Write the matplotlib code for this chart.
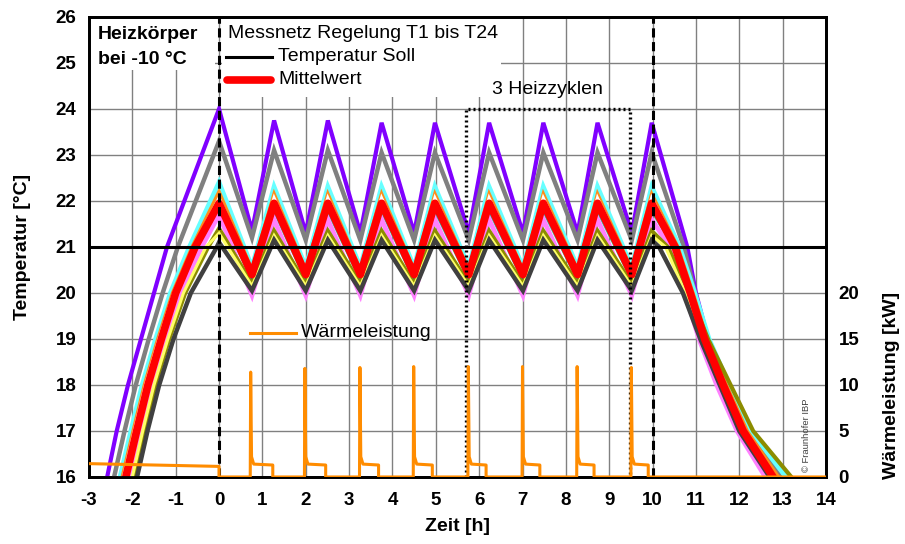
import matplotlib
matplotlib.use('Agg')
import matplotlib.pyplot as plt
from matplotlib.patches import Rectangle

plt.rcParams['font.family'] = ['Liberation Sans', 'DejaVu Sans']
plt.rcParams['axes.unicode_minus'] = False

# shared time grid for the heating cycles (peak, trough, peak, ...)
cycle_t = [0.0, 0.76, 1.27, 2.0, 2.51, 3.26, 3.75, 4.5, 4.98, 5.76, 6.23, 7.01, 7.48, 8.27, 8.73, 9.52, 9.98]
rise_levels = [15.5, 16, 17, 18, 19, 20, 21]
fall_levels = [21, 20, 19, 18, 17, 16, 15.5]

purple_rise = [-2.68, -2.58, -2.36, -2.1, -1.8, -1.5, -1.2]
purple_cyc = [24.0, 21.35, 23.75, 21.3, 23.75, 21.3, 23.7, 21.3, 23.7, 21.3, 23.7, 21.3, 23.7, 21.3, 23.7, 21.3, 23.7]
purple_fall = [10.8, 11.0, 11.28, 11.73, 12.22, 12.95, 13.2]

gray_rise = [-2.52, -2.42, -2.18, -1.92, -1.62, -1.3, -0.95]
gray_cyc = [23.3, 21.2, 23.1, 21.15, 23.1, 21.15, 23.05, 21.15, 23.05, 21.15, 23.05, 21.15, 23.05, 21.15, 23.05, 21.15, 23.05]
gray_fall = [10.72, 10.98, 11.26, 11.72, 12.2, 12.95, 13.2]

cyan_rise = [-2.38, -2.28, -2.03, -1.77, -1.46, -1.12, -0.68]
cyan_cyc = [22.4, 20.55, 22.3, 20.55, 22.3, 20.55, 22.3, 20.55, 22.3, 20.55, 22.3, 20.55, 22.3, 20.55, 22.3, 20.55, 22.3]
cyan_fall = [10.62, 10.97, 11.3, 11.76, 12.27, 13.08, 13.35]

orange_rise = [-2.33, -2.23, -1.98, -1.72, -1.41, -1.07, -0.62]
orange_cyc = [22.2, 20.5, 22.15, 20.5, 22.15, 20.5, 22.15, 20.5, 22.15, 20.5, 22.15, 20.5, 22.15, 20.5, 22.15, 20.5, 22.15]
orange_fall = [10.58, 10.93, 11.26, 11.7, 12.18, 12.9, 13.15]

white_rise = [-2.3, -2.2, -1.95, -1.69, -1.38, -1.04, -0.58]
white_cyc = [22.05, 20.45, 22.05, 20.45, 22.05, 20.45, 22.05, 20.45, 22.05, 20.45, 22.05, 20.45, 22.05, 20.45, 22.05, 20.45, 22.05]
white_fall = [10.55, 10.9, 11.22, 11.66, 12.12, 12.82, 13.1]

teal_rise = [-2.22, -2.12, -1.87, -1.61, -1.3, -0.96, -0.5]
teal_cyc = [21.85, 20.3, 21.8, 20.3, 21.8, 20.3, 21.8, 20.3, 21.8, 20.3, 21.8, 20.3, 21.8, 20.3, 21.8, 20.3, 21.8]
teal_fall = [10.5, 10.85, 11.18, 11.6, 12.05, 12.75, 13.05]

blue_rise = [-2.25, -2.15, -1.9, -1.64, -1.33, -1.0, -0.55]
blue_cyc = [21.9, 20.35, 21.85, 20.35, 21.85, 20.35, 21.85, 20.35, 21.85, 20.35, 21.85, 20.35, 21.85, 20.35, 21.85, 20.35, 21.85]
blue_fall = [10.52, 10.87, 11.2, 11.63, 12.09, 12.78, 13.05]

pink_rise = [-2.18, -2.08, -1.83, -1.57, -1.25, -0.9, -0.4]
pink_cyc = [21.7, 19.95, 21.6, 19.95, 21.6, 19.95, 21.6, 19.95, 21.6, 19.95, 21.6, 19.95, 21.6, 19.95, 21.6, 19.95, 21.6]
pink_fall = [10.4, 10.75, 11.07, 11.48, 11.95, 12.6, 12.9]

olive_rise = [-2.06, -1.97, -1.73, -1.47, -1.15, -0.78, -0.25]
olive_cyc = [21.4, 20.2, 21.35, 20.2, 21.35, 20.2, 21.35, 20.2, 21.35, 20.2, 21.35, 20.2, 21.35, 20.2, 21.35, 20.2, 21.35]
olive_fall = [10.35, 10.85, 11.28, 11.8, 12.32, 13.2, 13.45]

yellow_rise = [-2.1, -2.0, -1.76, -1.5, -1.18, -0.82, -0.3]
yellow_cyc = [21.3, 20.15, 21.25, 20.15, 21.25, 20.15, 21.25, 20.15, 21.25, 20.15, 21.25, 20.15, 21.25, 20.15, 21.25, 20.15, 21.25]
yellow_fall = [10.3, 10.75, 11.12, 11.58, 12.05, 12.72, 13.0]

dgray_rise = [-1.98, -1.89, -1.65, -1.38, -1.05, -0.65, -0.05]
dgray_cyc = [21.1, 20.05, 21.15, 20.05, 21.15, 20.05, 21.15, 20.05, 21.15, 20.05, 21.15, 20.05, 21.15, 20.05, 21.15, 20.05, 21.15]
dgray_fall = [10.15, 10.7, 11.1, 11.55, 12.0, 12.7, 13.0]

mean_rise = [-2.25, -2.15, -1.9, -1.64, -1.33, -1.0, -0.55]
mean_cyc = [21.95, 20.4, 21.95, 20.4, 21.95, 20.4, 21.95, 20.4, 21.95, 20.4, 21.95, 20.4, 21.95, 20.4, 21.95, 20.4, 21.95]
mean_fall = [10.52, 10.87, 11.2, 11.63, 12.09, 12.78, 13.05]

# heating power [kW]
power_t = [-3.0, 0.0, 0.0,
           0.72, 0.73, 0.75, 0.80, 1.24, 1.24,
           1.97, 1.98, 2.00, 2.05, 2.46, 2.46,
           3.24, 3.25, 3.27, 3.32, 3.68, 3.68,
           4.48, 4.49, 4.51, 4.56, 4.92, 4.92,
           5.74, 5.75, 5.77, 5.82, 6.16, 6.16,
           6.99, 7.00, 7.02, 7.07, 7.40, 7.40,
           8.25, 8.26, 8.28, 8.33, 8.65, 8.65,
           9.50, 9.51, 9.53, 9.58, 9.90, 9.90,
           14.0]
power_kw = [1.45, 1.15, 0.0,
            0.0, 11.4, 2.2, 1.4, 1.3, 0.0,
            0.0, 11.8, 2.2, 1.4, 1.3, 0.0,
            0.0, 11.9, 2.2, 1.4, 1.3, 0.0,
            0.0, 12.0, 2.2, 1.4, 1.3, 0.0,
            0.0, 12.0, 2.2, 1.4, 1.3, 0.0,
            0.0, 12.0, 2.2, 1.4, 1.3, 0.0,
            0.0, 12.0, 2.2, 1.4, 1.3, 0.0,
            0.0, 11.9, 2.2, 1.4, 1.3, 0.0,
            0.0]

x_ticks = list(range(-3, 15))
t_ticks = list(range(16, 27))
p_ticks = [0, 5, 10, 15, 20]

sensors = [
    (purple_rise, purple_cyc, purple_fall, '#8000ff', 3.0),
    (gray_rise, gray_cyc, gray_fall, '#808080', 3.2),
    (cyan_rise, cyan_cyc, cyan_fall, '#66ffff', 3.6),
    (orange_rise, orange_cyc, orange_fall, '#ff8c1a', 2.6),
    (white_rise, white_cyc, white_fall, '#ffffff', 2.6),
    (teal_rise, teal_cyc, teal_fall, '#33cc99', 2.6),
    (blue_rise, blue_cyc, blue_fall, '#1a1aff', 2.4),
    (pink_rise, pink_cyc, pink_fall, '#ff80ff', 3.4),
    (olive_rise, olive_cyc, olive_fall, '#8c8c00', 3.0),
    (yellow_rise, yellow_cyc, yellow_fall, '#ffff66', 2.2),
    (dgray_rise, dgray_cyc, dgray_fall, '#404040', 3.2),
]

fs = 14

fig = plt.figure(figsize=(9.05, 5.44), dpi=100)
ax = fig.add_axes([0.0983, 0.1232, 0.8144, 0.8456])

for rise, cyc, fall, col, lw in sensors:
    ax.plot(rise + cycle_t + fall, rise_levels + cyc + fall_levels, color=col, lw=lw,
            solid_joinstyle='miter', zorder=3)
ax.plot(mean_rise + cycle_t + mean_fall, rise_levels + mean_cyc + fall_levels,
        color='#ff0000', lw=5.5, solid_joinstyle='round', solid_capstyle='round', zorder=4)

ax.axhline(21, color='black', lw=2.2, zorder=5)
for xv in (0, 10):
    ax.axvline(xv, color='black', lw=2.2, ls=(0, (3, 1.5)), zorder=5)
ax.plot([5.7, 5.7, 9.48, 9.48], [16, 24.0, 24.0, 16], color='black', lw=2.4,
        ls=(0, (0.6, 0.9)), zorder=5)

# white legend areas hiding the grid
ax.add_patch(Rectangle((-3, 24.85), 2.91, 1.15, facecolor='white', edgecolor='none', zorder=1))
ax.add_patch(Rectangle((0.07, 24.26), 6.43, 1.74, facecolor='white', edgecolor='none', zorder=1))

ax.set_xlim(-3, 14)
ax.set_ylim(16, 26)
ax.set_xticks(x_ticks)
ax.set_yticks(t_ticks)
ax.grid(True, color='#808080', lw=1.0, zorder=0)
ax.set_axisbelow(True)
ax.tick_params(length=0, labelsize=13.5, pad=9)
ax.tick_params(axis='x', pad=11)
for lab in ax.get_xticklabels() + ax.get_yticklabels():
    lab.set_fontweight('bold')
for sp in ax.spines.values():
    sp.set_linewidth(2)
ax.set_ylabel('Temperatur [°C]', fontsize=fs, fontweight='bold')
ax.yaxis.set_label_coords(-0.079, 0.5)
ax.set_xlabel('Zeit [h]', fontsize=fs, fontweight='bold', labelpad=6)

ax.text(-2.8, 25.62, 'Heizkörper', fontsize=fs, fontweight='bold', va='center', ha='left', zorder=6)
ax.text(-2.8, 25.08, 'bei -10 °C', fontsize=fs, fontweight='bold', va='center', ha='left', zorder=6)
ax.text(0.2, 25.65, 'Messnetz Regelung T1 bis T24', fontsize=fs, va='center', zorder=6)
ax.plot([0.16, 1.22], [25.13, 25.13], color='black', lw=2.2, zorder=6)
ax.text(1.36, 25.13, 'Temperatur Soll', fontsize=fs, va='center', zorder=6)
ax.plot([0.18, 1.2], [24.63, 24.63], color='#ff0000', lw=5.5, solid_capstyle='round', zorder=6)
ax.text(1.36, 24.63, 'Mittelwert', fontsize=fs, va='center', zorder=6)
ax.text(6.3, 24.43, '3 Heizzyklen', fontsize=fs, va='center', zorder=6)
ax.plot([0.71, 1.77], [19.13, 19.13], color='#ff8c00', lw=2.2, zorder=6)
ax.text(1.9, 19.13, 'Wärmeleistung', fontsize=fs, va='center', zorder=6)
ax.text(13.56, 16.9, '© Fraunhofer IBP', fontsize=6.8, rotation=90, ha='center', va='center',
        color='#404040', zorder=6)

ax2 = ax.twinx()
ax2.plot(power_t, power_kw, color='#ff8c00', lw=2.2, zorder=3)
ax2.set_ylim(0, 50)
ax2.set_yticks(p_ticks)
ax2.tick_params(length=0, labelsize=13.5, pad=9)
for lab in ax2.get_yticklabels():
    lab.set_fontweight('bold')
for sp in ax2.spines.values():
    sp.set_linewidth(2)
ax2.set_ylabel('Wärmeleistung [kW]', fontsize=fs, fontweight='bold')
ax2.yaxis.set_label_coords(1.077, 0.2)

fig.savefig('out.png', dpi=100)
